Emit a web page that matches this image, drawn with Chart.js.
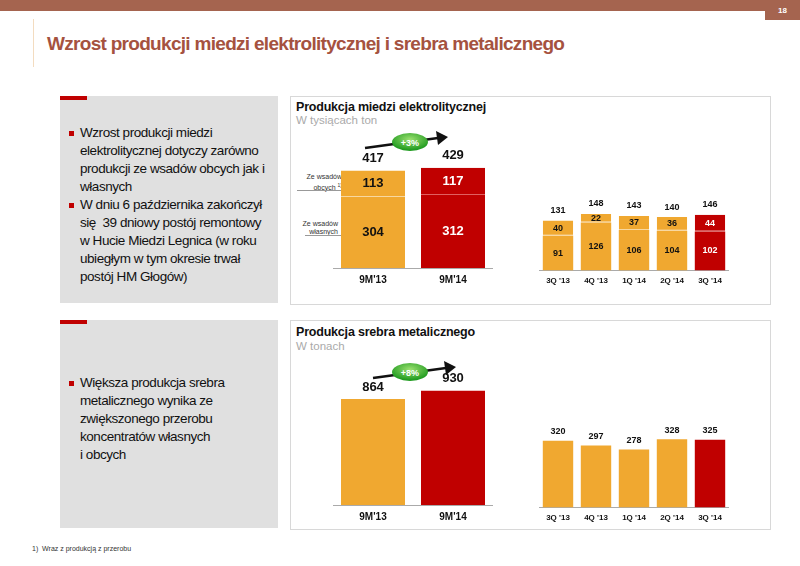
<!DOCTYPE html>
<html><head><meta charset="utf-8">
<script src="https://cdn.jsdelivr.net/npm/chart.js@4"></script>
<style>
body{margin:0;width:800px;height:566px;position:relative;background:#fff;font-family:"Liberation Sans",Arial,sans-serif;overflow:hidden}
.a{position:absolute}
.gray{background:#e0e0e0}
.panel{background:#fff;border:1px solid #d8d8d8}
ul{margin:0;padding:0 0 0 12px;list-style:none}
li{position:relative;font-size:13.5px;line-height:18px;color:#111;letter-spacing:-0.45px}
li:before{content:"";position:absolute;left:-11px;top:7px;width:5px;height:5px;background:#c00000}
.pt{font-weight:bold;font-size:12.5px;color:#111;letter-spacing:-0.2px}
.ps{font-size:11.5px;color:#aaa}
canvas{position:absolute}
</style></head><body>
<div class="a" style="left:0;top:0;width:800px;height:11px;background:#a5644f"></div>
<div class="a" style="left:765px;top:0;width:35px;height:20px;background:#a5644f;color:#fff;font-size:8px;font-weight:bold;text-align:center;line-height:22px">18</div>
<div class="a" style="left:33px;top:19px;width:1px;height:48px;background:#f3dcc0"></div>
<div class="a" style="left:47px;top:33px;font-size:19px;font-weight:bold;color:#a5523f;letter-spacing:-0.7px">Wzrost produkcji miedzi elektrolitycznej i srebra metalicznego</div>

<div class="a gray" style="left:60px;top:96px;width:218px;height:207px"></div>
<div class="a" style="left:60px;top:96px;width:27px;height:4px;background:#c00000"></div>
<div class="a" style="left:68px;top:124px;width:204px"><ul>
<li>Wzrost produkcji miedzi elektrolitycznej dotyczy zarówno produkcji ze wsadów obcych jak i własnych</li>
<li>W dniu 6 października zakończył się&nbsp; 39 dniowy postój remontowy w Hucie Miedzi Legnica (w roku ubiegłym w tym okresie trwał postój HM Głogów)</li></ul></div>

<div class="a gray" style="left:60px;top:320px;width:218px;height:208px"></div>
<div class="a" style="left:60px;top:320px;width:27px;height:4px;background:#c00000"></div>
<div class="a" style="left:68px;top:374px;width:195px"><ul>
<li>Większa produkcja srebra metalicznego wynika ze zwiększonego przerobu koncentratów własnych<br>i obcych</li></ul></div>

<div class="a panel" style="left:290px;top:96px;width:479px;height:207px"></div>
<div class="a pt" style="left:296px;top:100px">Produkcja miedzi elektrolitycznej</div>
<div class="a ps" style="left:296px;top:114px">W tysiącach ton</div>
<div class="a panel" style="left:290px;top:320px;width:479px;height:208px"></div>
<div class="a pt" style="left:296px;top:325px">Produkcja srebra metalicznego</div>
<div class="a ps" style="left:296px;top:340px">W tonach</div>

<div class="a" style="left:298px;top:173px;font-size:7px;color:#333;text-align:right;width:44px;line-height:8px">Ze wsadów<br>obcych <sup style="font-size:5px">1)</sup></div>
<div class="a" style="left:297px;top:190px;width:63px;height:1px;background:#999"></div>
<div class="a" style="left:298px;top:220px;font-size:7px;color:#333;text-align:right;width:40px;line-height:8px">Ze wsadów<br>własnych</div>
<div class="a" style="left:305px;top:235px;width:55px;height:1px;background:#999"></div>

<svg class="a" style="left:360px;top:128px" width="100" height="30">
<defs><radialGradient id="g" cx="50%" cy="35%" r="60%"><stop offset="0" stop-color="#9be070"/><stop offset="1" stop-color="#1f9a1f"/></radialGradient></defs>
<line x1="5" y1="20" x2="78" y2="10" stroke="#111" stroke-width="2.5"/><path d="M76 3 L88 9 L78 17 Z" fill="#111"/>
<ellipse cx="50" cy="14" rx="18" ry="9" fill="url(#g)"/><text x="50" y="18" fill="#fff" font-size="9" font-weight="bold" text-anchor="middle" font-family="Liberation Sans">+3%</text></svg>
<svg class="a" style="left:368px;top:358px" width="100" height="30">
<defs><radialGradient id="g2" cx="50%" cy="35%" r="60%"><stop offset="0" stop-color="#9be070"/><stop offset="1" stop-color="#1f9a1f"/></radialGradient></defs>
<line x1="5" y1="20" x2="78" y2="10" stroke="#111" stroke-width="2.5"/><path d="M76 3 L88 9 L78 17 Z" fill="#111"/>
<ellipse cx="42" cy="14" rx="18" ry="9" fill="url(#g2)"/><text x="42" y="18" fill="#fff" font-size="9" font-weight="bold" text-anchor="middle" font-family="Liberation Sans">+8%</text></svg>

<div class="a" style="left:32px;top:545px;font-size:7px;color:#333">1)&nbsp; Wraz z produkcją z przerobu</div>

<canvas id="c1" style="left:333px;top:150px;width:160px;height:138px"></canvas>
<canvas id="c2" style="left:539px;top:190px;width:190px;height:98px"></canvas>
<canvas id="c3" style="left:333px;top:370px;width:160px;height:155px"></canvas>
<canvas id="c4" style="left:539px;top:420px;width:190px;height:105px"></canvas>
<script>
const ORANGE='#f0a830', RED='#c00000';
const catsY=["9M'13","9M'14"];
const ownY=[304,312];
const foreignY=[113,117];
const totalY=[417,429];
const catsQ=["3Q '13","4Q '13","1Q '14","2Q '14","3Q '14"];
const ownQ=[91,126,106,104,102];
const foreignQ=[40,22,37,36,44];
const totalQ=[131,148,143,140,146];
const silverY=[864,930];
const silverQ=[320,297,278,328,325];

const labelPlugin={id:'lbl',afterDatasetsDraw(ch){
  const c=ch.ctx,o=ch.options.plugins.lbl;
  ch.data.datasets.forEach((ds,di)=>{
    const meta=ch.getDatasetMeta(di);
    meta.data.forEach((b,i)=>{
      c.save();c.textAlign='center';c.textBaseline='middle';
      c.font='bold '+o.inner+'px "Liberation Sans"';
      if(o.stacked){
        c.fillStyle=(ds.backgroundColor[i]===RED)?'#fff':'#111';
        c.fillText(ds.data[i],b.x,(b.y+b.base)/2);
      }
      if(di===ch.data.datasets.length-1){
        c.fillStyle='#111';c.font='bold '+o.top+'px "Liberation Sans"';
        c.fillText(o.totals[i],b.x,b.y-o.gap);
      }
      c.restore();
    });
  });
}};
function make(id,cats,sets,max,opt){
  new Chart(document.getElementById(id),{type:'bar',
    data:{labels:cats,datasets:sets.map((s,k)=>({data:s,
      backgroundColor:cats.map((_,i)=>i===cats.length-1?RED:ORANGE),
      borderColor:cats.map((_,i)=>i===cats.length-1?'#e06060':'#f8d8a0'),
      borderWidth:k>0&&opt.stacked?{bottom:1}:0,borderSkipped:false,
      barPercentage:0.8,categoryPercentage:1}))},
    options:{responsive:false,animation:false,events:[],
      layout:{padding:0},
      plugins:{legend:{display:false},tooltip:{enabled:false},lbl:opt},
      scales:{x:{stacked:true,grid:{display:false,drawTicks:true,tickLength:4},border:{color:'#aaa'},
        ticks:{color:'#111',font:{family:'Liberation Sans',weight:'bold',size:opt.tick},padding:2}},
        y:{stacked:true,display:false,min:0,max:max}}},
    plugins:[labelPlugin]});
}
make('c1',catsY,[ownY,foreignY],505,{stacked:true,inner:13,top:13,totals:totalY,gap:12,tick:10});
make('c2',catsQ,[ownQ,foreignQ],211,{stacked:true,inner:9,top:9,totals:totalQ,gap:10,tick:8});
make('c3',catsY,[silverY],1100,{stacked:false,inner:13,top:13,totals:silverY,gap:12,tick:10});
make('c4',catsQ,[silverQ],420,{stacked:false,inner:9,top:9,totals:silverQ,gap:9,tick:8});
</script></body></html>
